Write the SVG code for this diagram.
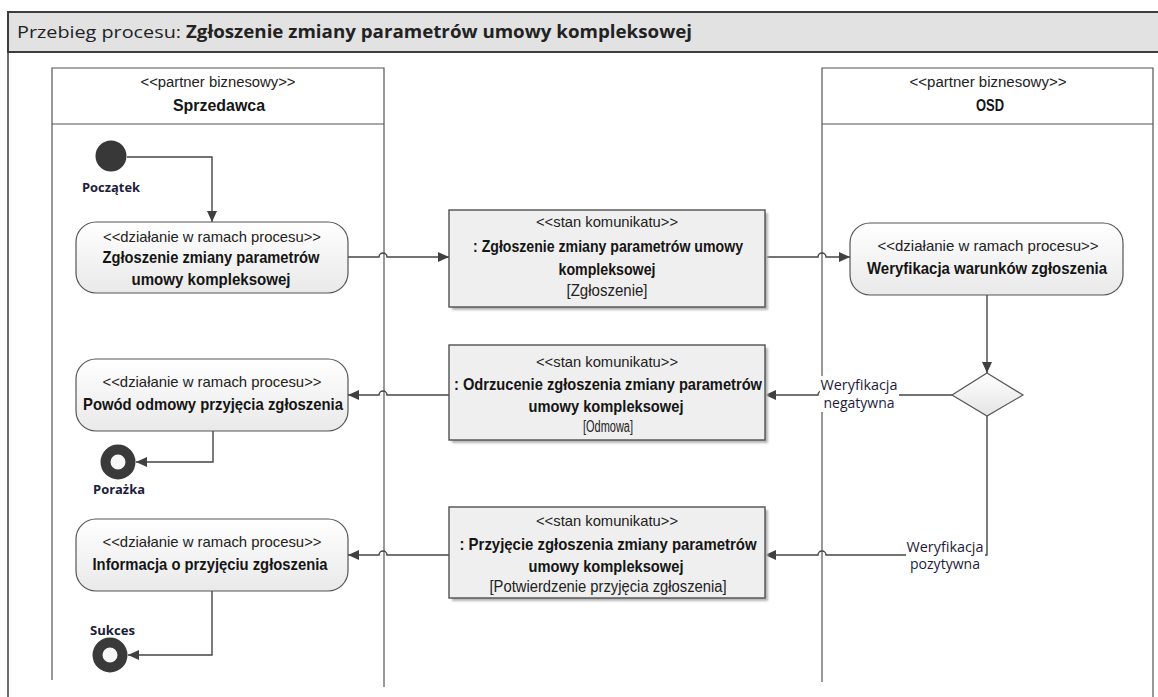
<svg xmlns="http://www.w3.org/2000/svg" width="1158" height="697" viewBox="0 0 1158 697">
<defs>
<linearGradient id="gAct" x1="0" y1="0" x2="0" y2="1">
<stop offset="0" stop-color="#ffffff"/><stop offset="1" stop-color="#e9e9e9"/>
</linearGradient>
<linearGradient id="gDec" x1="0" y1="0" x2="0" y2="1">
<stop offset="0" stop-color="#ffffff"/><stop offset="1" stop-color="#e4e4e4"/>
</linearGradient>
<marker id="arr" markerUnits="userSpaceOnUse" markerWidth="12" markerHeight="10" refX="11" refY="5" orient="auto">
<path d="M0,0 L11,5 L0,10 z" fill="#404040"/>
</marker>
<filter id="sh" x="-5%" y="-5%" width="115%" height="120%">
<feGaussianBlur stdDeviation="1.2"/>
</filter>
</defs>
<style>
.frame{fill:none;stroke:#3c3c3c;stroke-width:1.5}
.lane{fill:none;stroke:#555;stroke-width:1.2}
.act{fill:url(#gAct);stroke:#555;stroke-width:1.2}
.msg{fill:#efefef;stroke:#505050;stroke-width:1.4}
.shadow{fill:#b5b5b5;filter:url(#sh)}
.con{fill:none;stroke:#454545;stroke-width:1.4}
.arr{marker-end:url(#arr)}
.st{font-family:"Liberation Sans Narrow","Liberation Sans",Arial,sans-serif;font-size:15px;fill:#222;text-anchor:middle}
.lst{font-family:"Liberation Sans Narrow","Liberation Sans",Arial,sans-serif;font-size:14px;fill:#222;text-anchor:middle}
.bd{font-family:"Liberation Sans Narrow","Liberation Sans",Arial,sans-serif;font-size:17px;font-weight:bold;fill:#151515;text-anchor:middle}
.nm{font-family:"Liberation Sans Narrow","Liberation Sans",Arial,sans-serif;font-size:16px;fill:#222;text-anchor:middle}
.lbl{font-family:"Open Sans","Noto Sans",sans-serif;font-size:14px;fill:#1c1c3a;text-anchor:middle}
.nlbl{font-family:"Open Sans","Noto Sans",sans-serif;font-size:13px;font-weight:bold;fill:#1c1c3a}
.ttl{font-family:"Open Sans","Noto Sans",sans-serif;font-size:17px;fill:#222}
</style>
<rect x="0" y="0" width="1158" height="697" fill="#ffffff"/>

<g id="frame">
<rect x="8" y="12" width="1160" height="40" fill="#e2e2e2" stroke="#3c3c3c" stroke-width="2"/>
<line x1="8" y1="12" x2="8" y2="697" class="frame"/>
<text x="17" y="38" class="ttl" textLength="164" lengthAdjust="spacingAndGlyphs">Przebieg procesu:</text>
<text x="186" y="38" class="ttl" font-weight="bold" textLength="506" lengthAdjust="spacingAndGlyphs">Zgłoszenie zmiany parametrów umowy kompleksowej</text>
</g>

<g id="lane-sprzedawca">
<path d="M52,680 V68 H384 V687" class="lane"/>
<line x1="52" y1="124" x2="384" y2="124" class="lane"/>
<text x="218" y="87" class="lst" textLength="155" lengthAdjust="spacingAndGlyphs">&lt;&lt;partner biznesowy&gt;&gt;</text>
<text x="219" y="111" class="bd" textLength="92" lengthAdjust="spacingAndGlyphs">Sprzedawca</text>
</g>

<g id="lane-osd">
<path d="M822,682 V68 H1153 V697" class="lane"/>
<line x1="822" y1="124" x2="1153" y2="124" class="lane"/>
<text x="988" y="87" class="lst" textLength="157" lengthAdjust="spacingAndGlyphs">&lt;&lt;partner biznesowy&gt;&gt;</text>
<text x="990" y="111" class="bd" textLength="28" lengthAdjust="spacingAndGlyphs">OSD</text>
</g>

<g id="connectors">
<path d="M127,157 H212 V222" class="con arr"/>
<path d="M348,257 H379 a4,4 0 0 1 8,0 H449" class="con arr"/>
<path d="M765,257 H818 a4,4 0 0 1 8,0 H850" class="con arr"/>
<path d="M987,295 V373" class="con arr"/>
<path d="M952,395 H826 a4,4 0 0 0 -8,0 H765" class="con arr"/>
<path d="M449,395 H387 a4,4 0 0 0 -8,0 H348" class="con arr"/>
<path d="M987,416 V555 H826 a4,4 0 0 0 -8,0 H765" class="con arr"/>
<path d="M449,555 H387 a4,4 0 0 0 -8,0 H348" class="con arr"/>
<path d="M213,431 V462 H136" class="con arr"/>
<path d="M212,591 V655 H128" class="con arr"/>
<g id="label-negatywna">
<rect x="820" y="376" width="79" height="36" fill="#ffffff"/>
<text x="859" y="390" class="lbl" textLength="77" lengthAdjust="spacingAndGlyphs">Weryfikacja</text>
<text x="859" y="408" class="lbl" textLength="71" lengthAdjust="spacingAndGlyphs">negatywna</text>
</g>
<g id="label-pozytywna">
<rect x="906" y="538" width="79" height="35" fill="#ffffff"/>
<text x="945" y="552" class="lbl" textLength="77" lengthAdjust="spacingAndGlyphs">Weryfikacja</text>
<text x="945" y="569" class="lbl" textLength="70" lengthAdjust="spacingAndGlyphs">pozytywna</text>
</g>
</g>

<g id="start">
<circle cx="111" cy="156" r="15.5" fill="#383838"/>
<text x="82" y="192" class="nlbl" textLength="58" lengthAdjust="spacingAndGlyphs">Początek</text>
</g>

<g id="action-zgloszenie">
<rect x="76" y="222" width="272" height="71" rx="20" class="act"/>
<text x="212" y="242" class="st" textLength="218" lengthAdjust="spacingAndGlyphs">&lt;&lt;działanie w ramach procesu&gt;&gt;</text>
<text x="211" y="263" class="bd" textLength="217" lengthAdjust="spacingAndGlyphs">Zgłoszenie zmiany parametrów</text>
<text x="211" y="285" class="bd" textLength="159" lengthAdjust="spacingAndGlyphs">umowy kompleksowej</text>
</g>

<g id="msg-zgloszenie">
<rect x="452" y="213" width="316" height="97" class="shadow"/>
<rect x="449" y="210" width="316" height="97" class="msg"/>
<text x="607" y="227" class="st" textLength="142" lengthAdjust="spacingAndGlyphs">&lt;&lt;stan komunikatu&gt;&gt;</text>
<text x="608" y="252" class="bd" textLength="270" lengthAdjust="spacingAndGlyphs">: Zgłoszenie zmiany parametrów umowy</text>
<text x="607" y="275" class="bd" textLength="97" lengthAdjust="spacingAndGlyphs">kompleksowej</text>
<text x="607" y="296" class="nm" textLength="81" lengthAdjust="spacingAndGlyphs">[Zgłoszenie]</text>
</g>

<g id="action-weryfikacja">
<rect x="850" y="223" width="273" height="72" rx="20" class="act"/>
<text x="988" y="251" class="st" textLength="221" lengthAdjust="spacingAndGlyphs">&lt;&lt;działanie w ramach procesu&gt;&gt;</text>
<text x="987" y="274" class="bd" textLength="240" lengthAdjust="spacingAndGlyphs">Weryfikacja warunków zgłoszenia</text>
</g>

<g id="decision">
<path d="M987,373 L1023,395 L987,416 L952,395 z" fill="url(#gDec)" stroke="#555" stroke-width="1.2"/>
</g>

<g id="msg-odmowa">
<rect x="452" y="348" width="316" height="95" class="shadow"/>
<rect x="449" y="345" width="316" height="95" class="msg"/>
<text x="607" y="367" class="st" textLength="142" lengthAdjust="spacingAndGlyphs">&lt;&lt;stan komunikatu&gt;&gt;</text>
<text x="608" y="390" class="bd" textLength="308" lengthAdjust="spacingAndGlyphs">: Odrzucenie zgłoszenia zmiany parametrów</text>
<text x="606" y="412" class="bd" textLength="155" lengthAdjust="spacingAndGlyphs">umowy kompleksowej</text>
<text x="608" y="432" class="nm" textLength="50" lengthAdjust="spacingAndGlyphs">[Odmowa]</text>
</g>

<g id="action-powod">
<rect x="76" y="359" width="272" height="72" rx="20" class="act"/>
<text x="212" y="387" class="st" textLength="219" lengthAdjust="spacingAndGlyphs">&lt;&lt;działanie w ramach procesu&gt;&gt;</text>
<text x="213" y="410" class="bd" textLength="260" lengthAdjust="spacingAndGlyphs">Powód odmowy przyjęcia zgłoszenia</text>
</g>

<g id="end-porazka">
<circle cx="118" cy="462" r="12.5" fill="#f7f7f7" stroke="#3a3a3a" stroke-width="10"/>
<text x="93" y="494" class="nlbl" textLength="52" lengthAdjust="spacingAndGlyphs">Porażka</text>
</g>

<g id="msg-przyjecie">
<rect x="452" y="510" width="316" height="91" class="shadow"/>
<rect x="449" y="507" width="316" height="91" class="msg"/>
<text x="607" y="526" class="st" textLength="142" lengthAdjust="spacingAndGlyphs">&lt;&lt;stan komunikatu&gt;&gt;</text>
<text x="608" y="550" class="bd" textLength="297" lengthAdjust="spacingAndGlyphs">: Przyjęcie zgłoszenia zmiany parametrów</text>
<text x="606" y="572" class="bd" textLength="155" lengthAdjust="spacingAndGlyphs">umowy kompleksowej</text>
<text x="608" y="592" class="nm" textLength="237" lengthAdjust="spacingAndGlyphs">[Potwierdzenie przyjęcia zgłoszenia]</text>
</g>

<g id="action-informacja">
<rect x="76" y="519" width="272" height="72" rx="20" class="act"/>
<text x="212" y="547" class="st" textLength="219" lengthAdjust="spacingAndGlyphs">&lt;&lt;działanie w ramach procesu&gt;&gt;</text>
<text x="210" y="570" class="bd" textLength="235" lengthAdjust="spacingAndGlyphs">Informacja o przyjęciu zgłoszenia</text>
</g>

<g id="end-sukces">
<circle cx="110" cy="655" r="12.5" fill="#f7f7f7" stroke="#3a3a3a" stroke-width="10"/>
<text x="90" y="635" class="nlbl" textLength="45" lengthAdjust="spacingAndGlyphs">Sukces</text>
</g>
</svg>
